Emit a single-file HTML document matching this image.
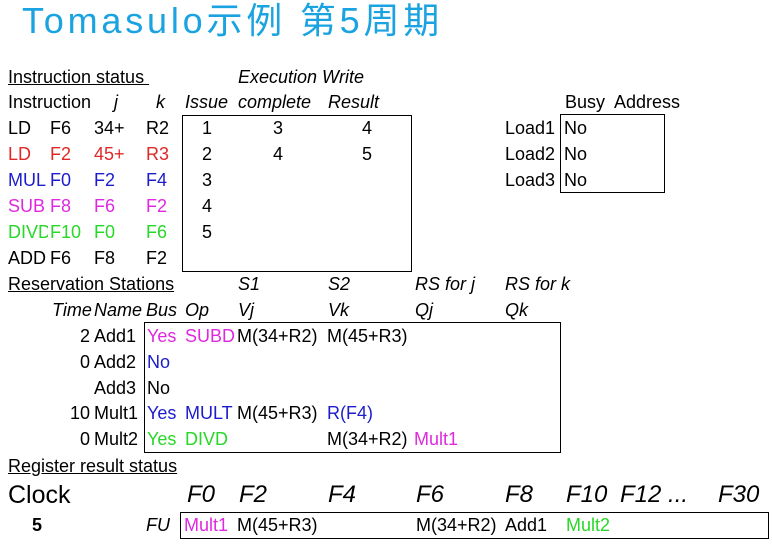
<!DOCTYPE html>
<html><head><meta charset="utf-8"><style>
body{margin:0;width:772px;height:544px;background:#fff;position:relative;overflow:hidden;font-family:"Liberation Sans",sans-serif;font-size:18px;color:#000}
.t{position:absolute;line-height:22px;white-space:nowrap}
.i{font-style:italic}
.u{text-decoration:underline}
.b{position:absolute;border:1.5px solid #000;box-sizing:border-box}
.r{color:#e02828}.bl{color:#1c1ccc}.m{color:#e028e0}.g{color:#28d828}
</style></head><body>
<div class="t" style="left:22px;top:0px;line-height:42px;font-size:36px;color:#1aa3e0;font-family:'Liberation Sans','Noto Sans CJK SC',sans-serif;letter-spacing:3.8px">Tomasulo示例 第5周期</div>

<div class="b" style="left:182px;top:115px;width:230px;height:157px"></div>
<div class="b" style="left:560px;top:114px;width:105px;height:79px"></div>
<div class="b" style="left:144px;top:322px;width:417px;height:131px"></div>
<div class="b" style="left:180px;top:512px;width:589px;height:27px"></div>

<div class="t u" style="left:8px;top:66px">Instruction status&nbsp;</div>
<div class="t i" style="left:238px;top:66px">Execution Write</div>
<div class="t" style="left:8px;top:91px;width:84px;overflow:hidden">Instruction</div>
<div class="t i" style="left:114px;top:91px">j</div>
<div class="t i" style="left:156px;top:91px">k</div>
<div class="t i" style="left:185px;top:91px">Issue</div>
<div class="t i" style="left:238px;top:91px">complete</div>
<div class="t i" style="left:328px;top:91px">Result</div>
<div class="t" style="left:565px;top:91px">Busy&nbsp; Address</div>

<div class="t" style="left:8px;top:117px">LD</div><div class="t" style="left:50px;top:117px">F6</div><div class="t" style="left:94px;top:117px">34+</div><div class="t" style="left:146px;top:117px">R2</div>
<div class="t r" style="left:8px;top:143px">LD</div><div class="t r" style="left:50px;top:143px">F2</div><div class="t r" style="left:94px;top:143px">45+</div><div class="t r" style="left:146px;top:143px">R3</div>
<div class="t bl" style="left:8px;top:169px">MUL</div><div class="t bl" style="left:50px;top:169px">F0</div><div class="t bl" style="left:94px;top:169px">F2</div><div class="t bl" style="left:146px;top:169px">F4</div>
<div class="t m" style="left:8px;top:195px">SUB</div><div class="t m" style="left:50px;top:195px">F8</div><div class="t m" style="left:94px;top:195px">F6</div><div class="t m" style="left:146px;top:195px">F2</div>
<div class="t g" style="left:8px;top:221px;width:40px;overflow:hidden">DIVD</div><div class="t g" style="left:50px;top:221px">F10</div><div class="t g" style="left:94px;top:221px">F0</div><div class="t g" style="left:146px;top:221px">F6</div>
<div class="t" style="left:8px;top:247px">ADD</div><div class="t" style="left:50px;top:247px">F6</div><div class="t" style="left:94px;top:247px">F8</div><div class="t" style="left:146px;top:247px">F2</div>

<div class="t" style="left:202px;top:117px">1</div><div class="t" style="left:273px;top:117px">3</div><div class="t" style="left:362px;top:117px">4</div>
<div class="t" style="left:202px;top:143px">2</div><div class="t" style="left:273px;top:143px">4</div><div class="t" style="left:362px;top:143px">5</div>
<div class="t" style="left:202px;top:169px">3</div>
<div class="t" style="left:202px;top:195px">4</div>
<div class="t" style="left:202px;top:221px">5</div>

<div class="t" style="left:505px;top:117px">Load1</div><div class="t" style="left:564px;top:117px">No</div>
<div class="t" style="left:505px;top:143px">Load2</div><div class="t" style="left:564px;top:143px">No</div>
<div class="t" style="left:505px;top:169px">Load3</div><div class="t" style="left:564px;top:169px">No</div>

<div class="t u" style="left:8px;top:273px">Reservation Stations</div>
<div class="t i" style="left:238px;top:273px">S1</div>
<div class="t i" style="left:328px;top:273px">S2</div>
<div class="t i" style="left:415px;top:273px">RS for j</div>
<div class="t i" style="left:505px;top:273px">RS for k</div>
<div class="t i" style="left:52px;top:299px;width:41px;overflow:hidden">Time</div>
<div class="t i" style="left:94px;top:299px;width:51px;overflow:hidden">Name</div>
<div class="t i" style="left:146px;top:299px">Bus</div>
<div class="t i" style="left:185px;top:299px">Op</div>
<div class="t i" style="left:238px;top:299px">Vj</div>
<div class="t i" style="left:328px;top:299px">Vk</div>
<div class="t i" style="left:415px;top:299px">Qj</div>
<div class="t i" style="left:505px;top:299px">Qk</div>

<div class="t" style="left:40px;top:325px;width:50px;text-align:right">2</div><div class="t" style="left:94px;top:325px">Add1</div>
<div class="t m" style="left:147px;top:325px">Yes</div><div class="t m" style="left:185px;top:325px;width:50px;overflow:hidden">SUBD</div>
<div class="t" style="left:237px;top:325px">M(34+R2)</div><div class="t" style="left:327px;top:325px">M(45+R3)</div>
<div class="t" style="left:40px;top:351px;width:50px;text-align:right">0</div><div class="t" style="left:94px;top:351px">Add2</div><div class="t bl" style="left:147px;top:351px">No</div>
<div class="t" style="left:94px;top:377px">Add3</div><div class="t" style="left:147px;top:377px">No</div>
<div class="t" style="left:40px;top:402px;width:50px;text-align:right">10</div><div class="t" style="left:94px;top:402px">Mult1</div>
<div class="t bl" style="left:147px;top:402px">Yes</div><div class="t bl" style="left:185px;top:402px">MULT</div>
<div class="t" style="left:237px;top:402px">M(45+R3)</div><div class="t bl" style="left:327px;top:402px">R(F4)</div>
<div class="t" style="left:40px;top:428px;width:50px;text-align:right">0</div><div class="t" style="left:94px;top:428px">Mult2</div>
<div class="t g" style="left:147px;top:428px">Yes</div><div class="t g" style="left:185px;top:428px">DIVD</div>
<div class="t" style="left:327px;top:428px">M(34+R2)</div><div class="t m" style="left:414px;top:428px">Mult1</div>

<div class="t u" style="left:8px;top:455px">Register result status</div>
<div class="t" style="left:8px;top:481px;font-size:25px;line-height:28px">Clock</div>
<div class="t i" style="left:187px;top:481px;font-size:24px;line-height:28px">F0</div>
<div class="t i" style="left:239px;top:481px;font-size:24px;line-height:28px">F2</div>
<div class="t i" style="left:328px;top:481px;font-size:24px;line-height:28px">F4</div>
<div class="t i" style="left:416px;top:481px;font-size:24px;line-height:28px">F6</div>
<div class="t i" style="left:505px;top:481px;font-size:24px;line-height:28px">F8</div>
<div class="t i" style="left:566px;top:481px;font-size:24px;line-height:28px">F10</div>
<div class="t i" style="left:620px;top:481px;font-size:24px;line-height:28px">F12 ...</div>
<div class="t i" style="left:718px;top:481px;font-size:24px;line-height:28px">F30</div>

<div class="t" style="left:32px;top:514px;font-weight:bold">5</div>
<div class="t i" style="left:146px;top:514px">FU</div>
<div class="t m" style="left:184px;top:514px">Mult1</div>
<div class="t" style="left:237px;top:514px">M(45+R3)</div>
<div class="t" style="left:416px;top:514px">M(34+R2)</div>
<div class="t" style="left:505px;top:514px">Add1</div>
<div class="t g" style="left:566px;top:514px">Mult2</div>
</body></html>
